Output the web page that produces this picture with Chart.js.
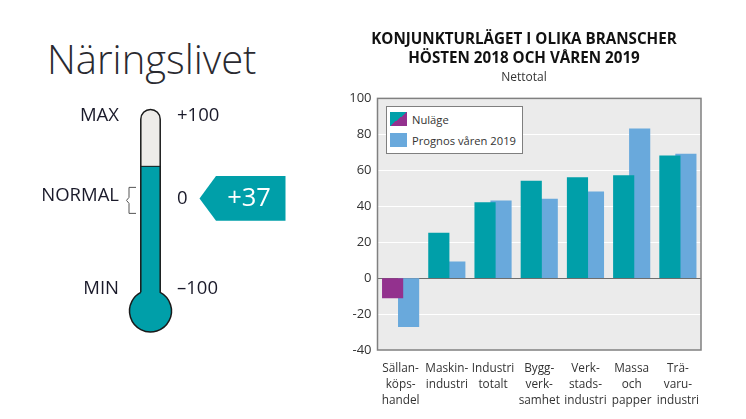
<!DOCTYPE html>
<html>
<head>
<meta charset="utf-8">
<title>Näringslivet</title>
<script src="https://cdn.jsdelivr.net/npm/chart.js@4"></script>
<style>
  html, body { margin: 0; padding: 0; background: #fff; }
  body { position: relative; width: 746px; height: 419px; overflow: hidden; font-family: "Open Sans", sans-serif; color: #1d1d1b; }
  .box { position: absolute; }
  #heading { left: 47px; top: 33px; font-size: 40px; font-weight: 300; line-height: 52px; color: #2a2a30; }
  #legend { left: 386px; top: 106px; width: 135px; height: 46px; background: #fff; border: 1px solid #7f7f7f; font-size: 11.2px; color: #333; }
  .row { position: absolute; left: 3px; height: 14px; line-height: 15px; white-space: nowrap; }
  .swatch { display: inline-block; width: 17px; height: 14px; margin-right: 5px; vertical-align: top; }
  .mark { font-size: 18.5px; line-height: 24px; color: #1a1a2a; white-space: nowrap; }
  .mark.name { right: 627px; }
  .mark.num { left: 177px; }
</style>
</head>
<body>
<div class="box" id="heading">Näringslivet</div>
<div class="box" style="left:0;top:90px;width:301px;height:250px"><canvas id="thermo"></canvas></div>
<div class="box mark name" style="top:102px">MAX</div>
<div class="box mark name" style="top:182px">NORMAL</div>
<div class="box mark name" style="top:275px">MIN</div>
<div class="box mark num" style="top:102px">+100</div>
<div class="box mark num" style="top:185px">0</div>
<div class="box mark num" style="top:275px">–100</div>
<div class="box" style="left:340px;top:0;width:368px;height:419px"><canvas id="bars"></canvas></div>
<div class="box" id="legend"></div>
<script>
const categories = [
  ['Sällan-', 'köps-', 'handel'],
  ['Maskin-', 'industri'],
  ['Industri', 'totalt'],
  ['Bygg-', 'verk-', 'samhet'],
  ['Verk-', 'stads-', 'industri'],
  ['Massa', 'och', 'papper'],
  ['Trä-', 'varu-', 'industri']
];
const nulage = [-11, 25, 42, 54, 56, 57, 68];
const prognos = [-27, 9, 43, 44, 48, 83, 69];
const seriesNames = ['Nuläge', 'Prognos våren 2019'];
const yTicks = [-40, -20, 0, 20, 40, 60, 80, 100];

const barometer = 37;

const TEAL = '#009fa9';
const PURPLE = '#93318e';
const BLUE = '#69a9dc';

// the two bars in a group overlap a little, the category scale cant do that
const SHIFT = 0.173;

const plotFrame = {
  id: 'plotFrame',
  beforeDraw(chart) {
    const a = chart.chartArea;
    chart.ctx.fillStyle = '#ebebeb';
    chart.ctx.fillRect(a.left, a.top, a.width, a.height);
  },
  afterDatasetsDraw(chart) {
    const a = chart.chartArea, ctx = chart.ctx;
    ctx.save();
    ctx.strokeStyle = '#808080';
    ctx.lineWidth = 1.5;
    ctx.strokeRect(a.left, a.top, a.width, a.height);
    ctx.restore();
  }
};

new Chart(document.getElementById('bars'), {
  type: 'bar',
  data: {
    datasets: [
      {
        label: seriesNames[0],
        data: nulage.map((v, i) => ({ x: i - SHIFT, y: v })),
        backgroundColor: nulage.map(v => v < 0 ? PURPLE : TEAL),
        xAxisID: 'pos',
        order: 1
      },
      {
        label: seriesNames[1],
        data: prognos.map((v, i) => ({ x: i + SHIFT, y: v })),
        backgroundColor: BLUE,
        xAxisID: 'pos',
        order: 2
      }
    ]
  },
  plugins: [plotFrame],
  options: {
    responsive: true,
    maintainAspectRatio: false,
    animation: false,
    events: [],
    layout: { padding: { left: 7, right: 7, top: 30, bottom: 8 } },
    datasets: { bar: { grouped: false, barThickness: 20.5 } },
    plugins: {
      legend: { display: false },
      tooltip: { enabled: false },
      title: {
        display: true,
        text: ['KONJUNKTURLÄGET I OLIKA BRANSCHER', 'HÖSTEN 2018 OCH VÅREN 2019'],
        color: '#111',
        font: { family: '"Open Sans"', size: 15.2, weight: 'bold', lineHeight: 1.25 },
        padding: { top: 0, bottom: 2 }
      },
      subtitle: {
        display: true,
        text: 'Nettotal',
        color: '#333',
        font: { family: '"Open Sans"', size: 12 },
        padding: { top: 0, bottom: 14 }
      }
    },
    scales: {
      pos: { type: 'linear', display: false, offset: false, min: -0.5, max: 6.5 },
      x: {
        type: 'category',
        labels: categories,
        offset: true,
        grid: { display: false },
        border: { display: false },
        ticks: {
          color: '#333',
          padding: 2,
          maxRotation: 0,
          autoSkip: false,
          font: { family: '"Open Sans"', size: 11.8, lineHeight: 1.39 }
        },
        afterFit(scale) { scale.height = 61; }
      },
      y: {
        min: -40,
        max: 100,
        afterBuildTicks(scale) { scale.ticks = yTicks.map(v => ({ value: v })); },
        afterFit(scale) { scale.width = 30.5; },
        grid: {
          color: ctx => ctx.tick.value === 0 ? '#6e6e6e' : '#fff',
          lineWidth: 1,
          drawTicks: false
        },
        border: { display: false },
        ticks: {
          color: '#333',
          padding: 6,
          font: { family: '"Open Sans"', size: 13 }
        }
      }
    }
  }
});

// html legend, sits on top of the plot area
const legendBox = document.getElementById('legend');
seriesNames.forEach((name, i) => {
  const row = document.createElement('div');
  row.className = 'row';
  row.style.top = (i === 0 ? 5 : 26) + 'px';
  const swatch = document.createElement('span');
  swatch.className = 'swatch';
  swatch.style.background = i === 0
    ? 'linear-gradient(to bottom right, ' + TEAL + ' 50%, ' + PURPLE + ' 50%)'
    : BLUE;
  row.appendChild(swatch);
  row.appendChild(document.createTextNode(name));
  legendBox.appendChild(row);
});

// tube, bulb, bracket and the value flag around the bar
const thermoParts = {
  id: 'thermoParts',
  beforeDatasetsDraw(chart) {
    const ctx = chart.ctx, y = chart.scales.y, x = chart.scales.x;
    const cx = x.getPixelForValue(0);
    const top = y.getPixelForValue(100) - 4;
    ctx.save();
    ctx.fillStyle = '#eeece9';
    ctx.beginPath();
    ctx.roundRect(cx - 9.7, top, 19.4, 100, [9, 9, 0, 0]);
    ctx.fill();
    ctx.restore();
  },
  afterDatasetsDraw(chart) {
    const ctx = chart.ctx, y = chart.scales.y, x = chart.scales.x;
    const cx = x.getPixelForValue(0);
    const top = y.getPixelForValue(100) - 4;
    const level = y.getPixelForValue(barometer);
    const bulbY = chart.chartArea.bottom - 29;
    const r = 21;
    const hw = 9.7;
    ctx.save();
    ctx.fillStyle = TEAL;
    ctx.beginPath();
    ctx.arc(cx, bulbY, r, 0, Math.PI * 2);
    ctx.fill();
    ctx.strokeStyle = '#1a1a1a';
    ctx.lineWidth = 1.5;
    // outline
    const a = Math.asin(hw / r);
    ctx.beginPath();
    ctx.moveTo(cx - hw, bulbY - r * Math.cos(a));
    ctx.lineTo(cx - hw, top + hw);
    ctx.arc(cx, top + hw, hw, Math.PI, 0);
    ctx.lineTo(cx + hw, bulbY - r * Math.cos(a));
    ctx.arc(cx, bulbY, r, -Math.PI / 2 + a, -Math.PI / 2 - a + Math.PI * 2);
    ctx.stroke();
    ctx.lineWidth = 1;
    ctx.beginPath();
    ctx.moveTo(cx - hw, level);
    ctx.lineTo(cx + hw, level);
    ctx.stroke();
    // bracket at NORMAL
    const mid = y.getPixelForValue(0) + 3;
    ctx.strokeStyle = '#555';
    ctx.beginPath();
    ctx.moveTo(cx - 14.5, mid - 13);
    ctx.lineTo(cx - 21.5, mid - 13);
    ctx.lineTo(cx - 21.5, mid - 3);
    ctx.lineTo(cx - 24, mid);
    ctx.lineTo(cx - 21.5, mid + 3);
    ctx.lineTo(cx - 21.5, mid + 13);
    ctx.lineTo(cx - 14.5, mid + 13);
    ctx.stroke();
    // flag
    const fy = y.getPixelForValue(0) + 1;
    ctx.fillStyle = TEAL;
    ctx.beginPath();
    ctx.moveTo(199.5, fy);
    ctx.lineTo(216, fy - 22.3);
    ctx.lineTo(285.5, fy - 22.3);
    ctx.lineTo(285.5, fy + 22.3);
    ctx.lineTo(216, fy + 22.3);
    ctx.closePath();
    ctx.fill();
    ctx.fillStyle = '#fff';
    ctx.font = '25.5px "Open Sans"';
    ctx.textAlign = 'center';
    ctx.textBaseline = 'middle';
    ctx.fillText('+' + barometer, 249, fy);
    ctx.restore();
  }
};

new Chart(document.getElementById('thermo'), {
  type: 'bar',
  data: {
    labels: [''],
    datasets: [{
      data: [[-135, barometer]],
      backgroundColor: TEAL,
      barThickness: 19.4
    }]
  },
  plugins: [thermoParts],
  options: {
    responsive: true,
    maintainAspectRatio: false,
    animation: false,
    events: [],
    layout: { padding: 0 },
    plugins: { legend: { display: false }, tooltip: { enabled: false } },
    scales: {
      x: { display: false },
      y: { display: false, min: -170, max: 128 }
    }
  }
});
</script>
</body>
</html>
